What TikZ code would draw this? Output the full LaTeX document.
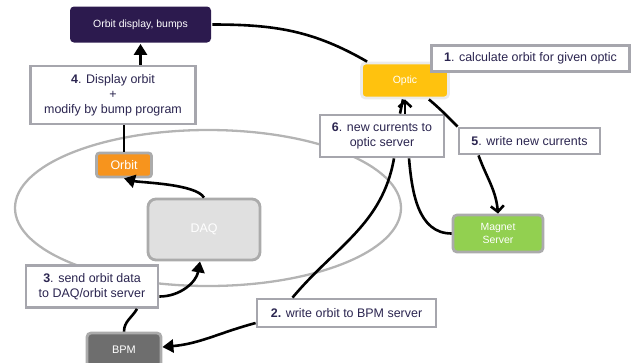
\documentclass[tikz,border=0pt]{standalone}
\usepackage{fontspec}
\setmainfont{Liberation Sans}
\usetikzlibrary{arrows.meta,shapes.geometric}
\definecolor{nightpurple}{HTML}{2C1A4E}
\definecolor{labeltext}{HTML}{2B2550}
\definecolor{labelgray}{HTML}{A6A6AD}
\definecolor{boxgray}{HTML}{ABABAB}
\definecolor{ringgray}{HTML}{B4B4B4}
\definecolor{opticyellow}{HTML}{FFC20E}
\definecolor{opticrim}{HTML}{EBEBEB}
\definecolor{orbitorange}{HTML}{F7941D}
\definecolor{daqgray}{HTML}{E0E0E0}
\definecolor{magnetgreen}{HTML}{92D050}
\definecolor{bpmgray}{HTML}{6E6E6E}
\begin{document}
\begin{tikzpicture}[x=1bp,y=-1bp]
 \tikzset{every node/.style={font=\fontsize{12.5}{15}\selectfont}}
\tikzstyle{mylabel} = [draw=labelgray, line width=2.8bp, fill=white, text=labeltext, align=center, inner sep=0pt]
\tikzstyle{mybox} = [rounded corners=4bp, text=white, align=center, inner sep=0pt, line width=2.8bp]
\tikzstyle{myline} = [line width=2.6bp]
\tikzstyle{myarrow} = [myline, -{Triangle[length=11bp,width=13bp]}]
\tikzstyle{mybarb} = [myline, -{Straight Barb[length=6bp,width=13bp]}]
\useasboundingbox (0,0) rectangle (634,362);
% the ring
\node[ellipse, draw=ringgray, line width=2.3bp, minimum width=386bp, minimum height=156bp, inner sep=0pt] (ring) at (208,208) {};
% servers
\node[mybox, fill=nightpurple, minimum width=141bp, minimum height=36bp, font=\fontsize{10.5}{12}\selectfont] (disp) at (140.5,24.5) {Orbit display, bumps};
\node[mybox, fill=opticyellow, draw=opticrim, minimum width=87bp, minimum height=35bp, font=\fontsize{10.5}{12}\selectfont] (optic) at (405,80.5) {Optic};
\node[mybox, fill=orbitorange, draw=boxgray, rounded corners=3bp, minimum width=55bp, minimum height=24bp] (orbit) at (124,165) {Orbit};
\node[mybox, fill=daqgray, draw=boxgray, rounded corners=8bp, minimum width=112bp, minimum height=61bp] (daq) at (204,229.5) {DAQ};
\node[mybox, fill=magnetgreen, draw=boxgray, minimum width=90bp, minimum height=37bp, font=\fontsize{10.5}{12.5}\selectfont] (magnet) at (498,233.5) {Magnet\\Server};
\node[mybox, fill=bpmgray, draw=boxgray, minimum width=74bp, minimum height=34bp, font=\fontsize{11}{13}\selectfont] (bpm) at (124,350) {BPM};
% steps
\node[mylabel, minimum width=198bp, minimum height=26bp] (calc) at (530.5,58.5) {\textbf{1}. calculate orbit for given optic};
\node[mylabel, minimum width=179bp, minimum height=28bp] (writebpm) at (346.5,313) {\textbf{2.} write orbit to BPM server};
\node[mylabel, minimum width=132bp, minimum height=42bp] (send) at (92,286.5) {\textbf{3}. send orbit data\\to DAQ/orbit server};
\node[mylabel, minimum width=165bp, minimum height=58bp] (show) at (113,95) {\textbf{4}. Display orbit\\+\\modify by bump program};
\node[mylabel, minimum width=141bp, minimum height=26bp] (writecur) at (529.5,141) {\textbf{5}. write new currents};
\node[mylabel, minimum width=124bp, minimum height=42bp] (newcur) at (382,136) {\textbf{6}. new currents to\\optic server};
% connectors
\draw[myline] (disp.east) to[out=0,in=150] ([xshift=7bp]optic.north west);
\draw[myarrow] (show.north -| disp.south) -- (disp.south);
\draw[myline] (orbit.north) -- (orbit.north |- show.south);
\draw[myarrow] (daq.north) to[out=120,in=-15,looseness=0.5] (orbit.south);
\draw[myline] (bpm.north) to[out=90,in=-120] ([xshift=45bp]send.south);
\draw[myarrow] ([yshift=-10bp]send.east) to[out=0,in=-100] ([xshift=-4bp]daq.south);
\draw[mybarb] (newcur.north -| optic.south) -- (optic.south);
\draw[myline] ([xshift=-2bp]optic.south) -- ([xshift=-5bp]newcur.north -| optic.south);
\draw[myline] ([xshift=12bp]newcur.south) to[out=-100,in=50] ([xshift=-54bp]writebpm.north);
\draw[myarrow] ([yshift=-10bp]writebpm.west) to[out=195,in=5] ([yshift=3bp]bpm.east);
\draw[myline] (magnet.west) to[out=180,in=-85] ([xshift=27bp]newcur.south);
\draw[myline] ([xshift=-21bp]optic.south east) to[out=-40,in=135] (writecur.north west);
\draw[mybarb] ([xshift=-51bp]writecur.south) to[out=-70,in=95] (magnet.north);
\end{tikzpicture}
\end{document}
